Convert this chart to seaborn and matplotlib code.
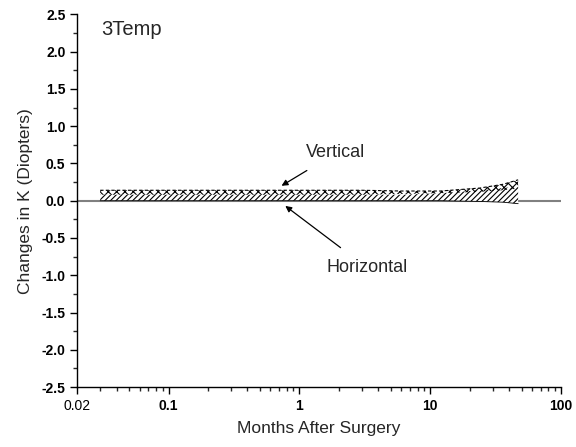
import matplotlib
matplotlib.use("Agg")
import matplotlib.pyplot as plt
import matplotlib.ticker as mticker
import numpy as np
import pandas as pd
import seaborn as sns

sns.set_theme(style="ticks")
plt.rcParams["font.family"] = ["Liberation Sans", "DejaVu Sans"]
plt.rcParams["hatch.linewidth"] = 0.8

# Months after surgery at which the K changes were measured
months = [0.03, 0.25, 1, 3, 6, 12, 24, 36, 47]

# Vertical meridian: band limits (diopters)
vert_lo = [0.08, 0.08, 0.08, 0.08, 0.09, 0.10, 0.12, 0.14, 0.16]
vert_hi = [0.14, 0.14, 0.14, 0.14, 0.13, 0.13, 0.17, 0.22, 0.28]

# Horizontal meridian: band limits (diopters)
horiz_lo = [0.00, 0.00, 0.00, 0.00, 0.00, 0.00, -0.01, -0.02, -0.04]
horiz_hi = [0.08, 0.08, 0.08, 0.08, 0.08, 0.10, 0.14, 0.17, 0.19]

x_ticks = [0.02, 0.1, 1, 10, 100]
x_ticklabels = ["0.02", "0.1", "1", "10", "100"]
y_ticks = [-2.5, -2.0, -1.5, -1.0, -0.5, 0.0, 0.5, 1.0, 1.5, 2.0, 2.5]

df = pd.DataFrame({"months": months,
                   "vert_lo": vert_lo, "vert_hi": vert_hi,
                   "horiz_lo": horiz_lo, "horiz_hi": horiz_hi})

fig = plt.figure(figsize=(5.76, 4.47), dpi=100)
ax = fig.add_axes([0.134, 0.134, 0.840, 0.834])

# zero reference line
ax.axhline(0, color="#808080", lw=1.5, zorder=1)

# horizontal meridian band (diagonal hatch)
ax.fill_between(df["months"], df["horiz_lo"], df["horiz_hi"],
                facecolor="white", edgecolor="black", hatch="//////",
                linewidth=0, zorder=2)
sns.lineplot(data=df, x="months", y="horiz_lo", ax=ax, color="black",
             lw=0.6, zorder=3)

# vertical meridian band (cross hatch)
ax.fill_between(df["months"], df["vert_lo"], df["vert_hi"],
                facecolor="none", edgecolor="black", hatch="xxxx",
                linewidth=0, zorder=3)
sns.lineplot(data=df, x="months", y="vert_hi", ax=ax, color="black",
             lw=0.8, ls=(0, (3, 2)), zorder=4)

ax.set_xscale("log")
ax.set_xlim(0.02, 100)
ax.set_ylim(-2.5, 2.5)
ax.set_xticks(x_ticks)
ax.set_xticklabels(x_ticklabels)
ax.xaxis.set_minor_locator(mticker.LogLocator(base=10, subs=np.arange(2, 10)))
ax.xaxis.set_minor_formatter(mticker.NullFormatter())
ax.set_yticks(y_ticks)
ax.yaxis.set_major_formatter(mticker.FormatStrFormatter("%.1f"))
ax.yaxis.set_minor_locator(mticker.MultipleLocator(0.25))

ax.tick_params(which="major", direction="out", length=5, width=1,
               labelsize=10, colors="black")
ax.tick_params(which="minor", direction="out", length=3, width=1)
for lab in ax.get_xticklabels()[1:] + ax.get_yticklabels():
    lab.set_fontweight("bold")

for side in ["top", "right"]:
    ax.spines[side].set_visible(False)
for side in ["left", "bottom"]:
    ax.spines[side].set_linewidth(1)
    ax.spines[side].set_color("black")

ax.set_xlabel("Months After Surgery", fontsize=12.5, labelpad=6)
ax.set_ylabel("Changes in K (Diopters)", fontsize=12.5, labelpad=6)

ax.text(0.0305, 2.3, "3Temp", fontsize=14.5, va="center", ha="left")

ax.annotate("Vertical", xy=(0.73, 0.2), xytext=(1.9, 0.64),
            fontsize=13, ha="center", va="center",
            arrowprops=dict(arrowstyle="-|>", color="black", lw=0.9,
                            shrinkA=8, shrinkB=0, mutation_scale=9))
ax.annotate("Horizontal", xy=(0.78, -0.07), xytext=(3.3, -0.9),
            fontsize=13, ha="center", va="center",
            arrowprops=dict(arrowstyle="-|>", color="black", lw=0.9,
                            shrinkA=10, shrinkB=0, mutation_scale=9))

fig.savefig("out.png", dpi=100)
